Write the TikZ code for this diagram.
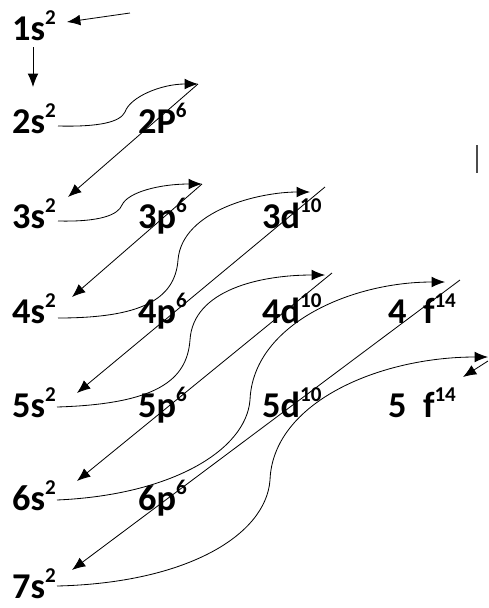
\documentclass[tikz,border=0pt]{standalone}
\usepackage{fontspec}
\setmainfont{Carlito}
\usetikzlibrary{arrows.meta}

\newcommand{\orbsup}[1]{\raisebox{13pt}{\fontsize{18}{18}\selectfont #1}}
\tikzset{
  orb/.style={anchor=base west, inner sep=0pt, font=\fontsize{31}{34}\selectfont\bfseries},
  fillarrow/.style={line width=0.7pt, -{Latex[length=4mm,width=3.2mm]}}
}

\begin{document}
\begin{tikzpicture}[x=0.3mm,y=-0.3mm]
            \useasboundingbox (0,0) rectangle (489,608);
            
            % Orbitals, one row per shell
            \node[orb] (s1) at (12,40)  {1s\orbsup{2}};
            \node[orb] (s2) at (12,133) {2s\orbsup{2}};
            \node[orb] (p2) at (138,133) {2P\orbsup{6}};
            \node[orb] (s3) at (12,228) {3s\orbsup{2}};
            \node[orb] (p3) at (138,228) {3p\orbsup{6}};
            \node[orb] (d3) at (262,228) {3d\orbsup{10}};
            \node[orb] (s4) at (12,323) {4s\orbsup{2}};
            \node[orb] (p4) at (138,323) {4p\orbsup{6}};
            \node[orb] (d4) at (262,323) {4d\orbsup{10}};
            \node[orb] (f4) at (388,323) {4~~f\orbsup{14}};
            \node[orb] (s5) at (12,417) {5s\orbsup{2}};
            \node[orb] (p5) at (138,417) {5p\orbsup{6}};
            \node[orb] (d5) at (262,417) {5d\orbsup{10}};
            \node[orb] (f5) at (388,417) {5~~f\orbsup{14}};
            \node[orb] (s6) at (12,510) {6s\orbsup{2}};
            \node[orb] (p6) at (138,510) {6p\orbsup{6}};
            \node[orb] (s7) at (12,598) {7s\orbsup{2}};
            
            % Free ends of the arrows
            \coordinate (in1) at (130,13);
            \coordinate (t2) at (198,84);
            \coordinate (t3) at (202,184);
            \coordinate (t4) at (310,192);
            \coordinate (t5) at (325,275);
            \coordinate (t6) at (445,282);
            \coordinate (t7) at (488,357);
            \coordinate (u4) at (325,187);
            \coordinate (u5) at (332,273);
            \coordinate (u6) at (460,280);
            \coordinate (u7) at (488,361);
            \coordinate (v7) at (463,377);
            
            % Start and first step down
            \draw[fillarrow] (in1) -- ([shift={(55,-18)}]s1.base west);
            \draw[fillarrow] ([shift={(21,7)}]s1.base west) -- ([shift={(21,-46)}]s2.base west);
            
            % Curves from each s to the next tip
            \draw[fillarrow] ([shift={(46,-7)}]s2.base west) .. controls +(42,1) and +(-5,10) .. (125,112) .. controls +(5,-15) and +(-37,0) .. (t2);
            \draw[fillarrow] ([shift={(46,-7)}]s3.base west) .. controls +(42,1) and +(-4,10) .. (122,205) .. controls +(6,-13) and +(-42,0) .. (t3);
            \draw[fillarrow] ([shift={(46,-5)}]s4.base west) .. controls +(82,0) and +(-3,40) .. (178,260) .. controls +(4,-50) and +(-50,0) .. (t4);
            \draw[fillarrow] ([shift={(45,-10)}]s5.base west) .. controls +(100,-3) and +(-3,40) .. (190,340) .. controls +(3,-50) and +(-65,0) .. (t5);
            \draw[fillarrow] ([shift={(45,-10)}]s6.base west) .. controls +(115,-5) and +(-4,50) .. (250,400) .. controls +(3,-75) and +(-95,0) .. (t6);
            \draw[fillarrow] ([shift={(45,-12)}]s7.base west) .. controls +(130,-3) and +(-4,55) .. (270,480) .. controls +(3,-78) and +(-108,0) .. (t7);
            
            % Diagonals back down to the next s
            \draw[fillarrow] (t2) -- ([shift={(56,-31)}]s3.base west);
            \draw[fillarrow] (t3) -- ([shift={(60,-26)}]s4.base west);
            \draw[fillarrow] (u4) -- ([shift={(65,-24)}]s5.base west);
            \draw[fillarrow] (u5) -- ([shift={(65,-29)}]s6.base west);
            \draw[fillarrow] (u6) -- ([shift={(60,-28)}]s7.base west);
            \draw[fillarrow] (u7) -- (v7);
            
            % Stray mark
            \draw[black!70, line width=1.2pt] (477,145) -- (477,173);
            
\end{tikzpicture}
\end{document}
